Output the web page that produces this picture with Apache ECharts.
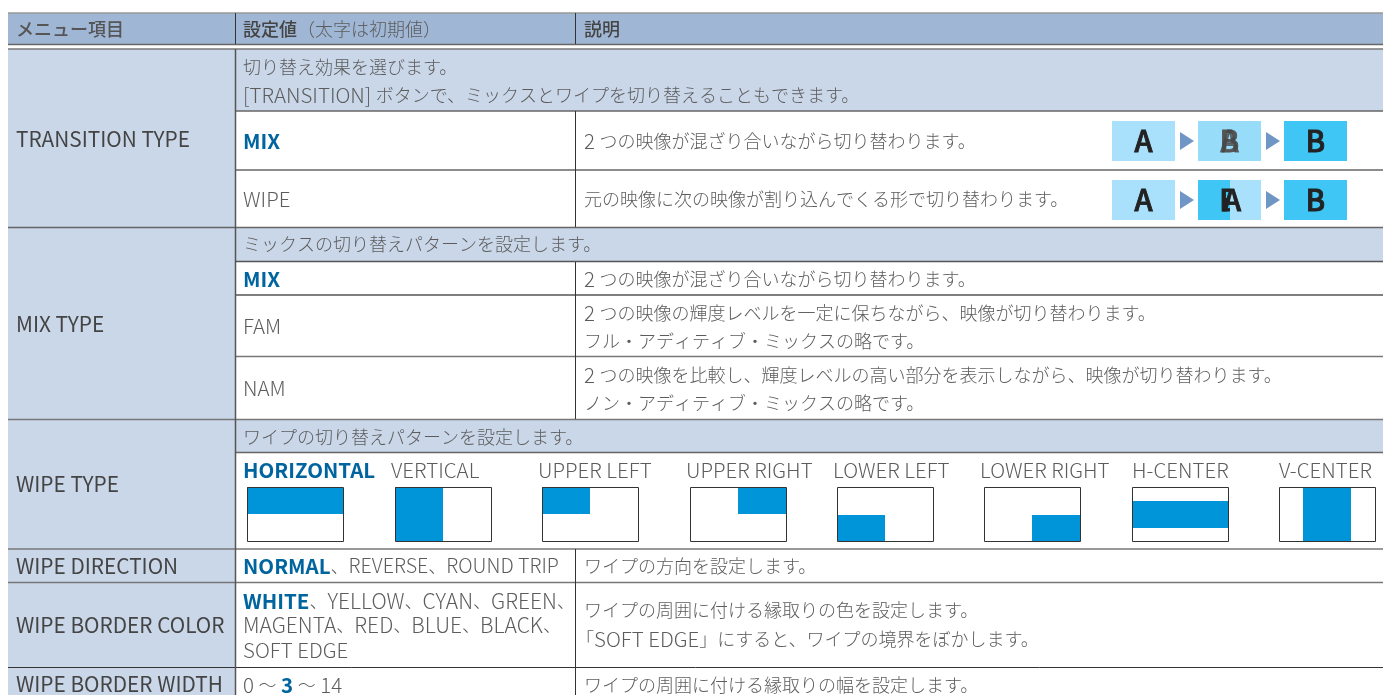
<!DOCTYPE html>
<html style="height: 100%">
<head>
    <meta charset="UTF-8" />
    <title>TRANSITION メニュー</title>
    <script src="https://cdn.jsdelivr.net/npm/echarts@6/dist/echarts.min.js"></script>
</head>
<body style="height: 100%; margin: 0; background: #fff">
    <div id="main" style="width: 1383px; height: 695px"></div>
    <script type="text/javascript">
        // table text
        var headerLabels = ['メニュー項目', '設定値', '（太字は初期値）', '説明'];
        var menuItems = ['TRANSITION TYPE', 'MIX TYPE', 'WIPE TYPE', 'WIPE DIRECTION', 'WIPE BORDER COLOR', 'WIPE BORDER WIDTH'];
        var transitionIntro = ['切り替え効果を選びます。', '[TRANSITION] ボタンで、ミックスとワイプを切り替えることもできます。'];
        var transitionValues = ['MIX', 'WIPE'];
        var transitionNotes = ['2 つの映像が混ざり合いながら切り替わります。', '元の映像に次の映像が割り込んでくる形で切り替わります。'];
        var mixIntro = 'ミックスの切り替えパターンを設定します。';
        var mixValues = ['MIX', 'FAM', 'NAM'];
        var mixNotes = [
            ['2 つの映像が混ざり合いながら切り替わります。'],
            ['2 つの映像の輝度レベルを一定に保ちながら、映像が切り替わります。', 'フル・アディティブ・ミックスの略です。'],
            ['2 つの映像を比較し、輝度レベルの高い部分を表示しながら、映像が切り替わります。', 'ノン・アディティブ・ミックスの略です。']
        ];
        var wipeIntro = 'ワイプの切り替えパターンを設定します。';
        var wipeTypes = ['HORIZONTAL', 'VERTICAL', 'UPPER LEFT', 'UPPER RIGHT', 'LOWER LEFT', 'LOWER RIGHT', 'H-CENTER', 'V-CENTER'];
        var directionNote = 'ワイプの方向を設定します。';
        var directionValues = ['NORMAL', '、REVERSE、ROUND TRIP'];
        var colorValues = ['WHITE', '、YELLOW、CYAN、GREEN、', 'MAGENTA、RED、BLUE、BLACK、', 'SOFT EDGE'];
        var colorNotes = ['ワイプの周囲に付ける縁取りの色を設定します。', '「SOFT EDGE」にすると、ワイプの境界をぼかします。'];
        var widthValues = ['0 ～ ', '3', ' ～ 14'];
        var widthNote = 'ワイプの周囲に付ける縁取りの幅を設定します。';

        // layout
        var LEFT = 8, COL2 = 235, COL3 = 575, RIGHT = 1383;
        var lineColor = '#555', textColor = '#5c5c5c', blue = '#00659f', wipeBlue = '#0095d9';
        var font = '"Noto Sans CJK JP"';
        var els = [];

        function rect(x0, y0, x1, y1, fill, z) {
            els.push({ type: 'rect', silent: true, z: z || 0, shape: { x: x0, y: y0, width: x1 - x0, height: y1 - y0 }, style: { fill: fill } });
        }
        function hline(x0, x1, y, color, w) {
            els.push({ type: 'line', silent: true, shape: { x1: x0, y1: y, x2: x1, y2: y }, style: { stroke: color || lineColor, lineWidth: w || 1 } });
        }
        function vline(x, y0, y1, color, w) {
            els.push({ type: 'line', silent: true, shape: { x1: x, y1: y0, x2: x, y2: y1 }, style: { stroke: color || lineColor, lineWidth: w || 1 } });
        }
        // latin runs are set larger than kana/kanji, like the manual's typeface
        var bodyRich = {
            l: { font: '300 20.5px ' + font, fill: textColor },
            c: { font: '300 18px ' + font, fill: textColor },
            b: { font: '700 20.5px ' + font, fill: blue },
            // the value lists are set a little tighter or looser per row
            d: { font: '300 19.7px ' + font, fill: textColor },
            w: { font: '300 21px ' + font, fill: textColor }
        };
        function mix(str, latin) {
            return str.replace(/[A-Za-z0-9 \-\[\]]+|[^A-Za-z0-9 \-\[\]]+/g, function (run) {
                return (/^[A-Za-z0-9 \-\[\]]/.test(run) ? '{' + (latin || 'l') + '|' : '{c|') + run + '}';
            });
        }
        function raw(str, x, y, opt) {
            opt = opt || {};
            var st = {
                text: str, x: x, y: y, verticalAlign: 'middle', align: opt.align || 'left',
                font: (opt.weight || 300) + ' ' + (opt.size || 18) + 'px ' + font,
                fill: opt.color || textColor
            };
            if (opt.rich) st.rich = opt.rich;
            if (opt.stroke) { st.stroke = opt.color; st.lineWidth = opt.stroke; }
            els.push({ type: 'text', silent: true, z: opt.z || 5, style: st });
        }
        function text(str, x, y, latin) {
            raw(mix(str, latin), x, y, { rich: bodyRich });
        }
        function bold(str, x, y) {
            raw(str, x, y, { weight: 700, size: 20.5, color: blue });
        }

        // backgrounds
        rect(LEFT, 13, RIGHT, 44, '#9fb6d4');
        rect(LEFT, 49, COL2, 695, '#cad7e9');
        rect(COL2, 49, RIGHT, 111, '#cad7e9');
        rect(COL2, 228, RIGHT, 262, '#cad7e9');
        rect(COL2, 420, RIGHT, 453, '#cad7e9');

        // header rules
        hline(LEFT, RIGHT, 13, '#999', 1.5);
        hline(LEFT, RIGHT, 44.5, '#666', 1.5);
        hline(LEFT, RIGHT, 49, '#777', 1.5);
        vline(COL2 + 0.5, 13, 44, '#333');
        vline(COL3 + 0.5, 13, 44, '#333');

        // row rules
        hline(COL2, RIGHT, 111, '#666', 1.5);
        hline(COL2, RIGHT, 170, '#666', 1.5);
        hline(LEFT, RIGHT, 227.5, '#666', 1.5);
        hline(COL2, RIGHT, 261.5, '#555', 1.5);
        hline(COL2, RIGHT, 295, '#555', 1.5);
        hline(COL2, RIGHT, 356.5, '#777', 1.5);
        hline(LEFT, RIGHT, 419.5, '#777', 1.5);
        hline(COL2, RIGHT, 452.5, '#666', 1.5);
        hline(LEFT, RIGHT, 549, '#777', 1.5);
        hline(LEFT, RIGHT, 582.5, '#777', 1.5);
        hline(LEFT, RIGHT, 667.5, '#333', 1);

        // column rules
        vline(COL2 + 0.5, 49, 695, '#555', 1.5);
        vline(COL3 + 0.5, 111, 227, '#333');
        vline(COL3 + 0.5, 262, 419, '#333');
        vline(COL3 + 0.5, 549, 695, '#333');

        // header text
        raw(headerLabels[0], 16, 29, { color: '#555', weight: 500 });
        raw('{h|' + headerLabels[1] + '}{n|' + headerLabels[2] + '}', 243, 29, {
            rich: { h: { font: '500 18px ' + font, fill: '#444' }, n: { font: '300 18px ' + font, fill: textColor } }
        });
        raw(headerLabels[3], 584, 29, { weight: 500, color: '#444' });

        // first column
        var menuY = [139, 324, 484, 566, 625, 684];
        menuItems.forEach(function (m, i) { raw(m, 16, menuY[i], { size: 20.8, weight: 400, color: '#444' }); });

        // TRANSITION TYPE
        text(transitionIntro[0], 243, 67);
        text(transitionIntro[1], 243, 95);
        bold(transitionValues[0], 243, 141);
        text(transitionValues[1], 243, 199);
        text(transitionNotes[0], 584, 141);
        text(transitionNotes[1], 584, 199);

        // MIX TYPE
        text(mixIntro, 243, 244);
        bold(mixValues[0], 243, 279);
        text(mixValues[1], 243, 326);
        text(mixValues[2], 243, 388);
        text(mixNotes[0][0], 584, 279);
        text(mixNotes[1][0], 584, 313);
        text(mixNotes[1][1], 584, 341);
        text(mixNotes[2][0], 584, 375);
        text(mixNotes[2][1], 584, 403);

        // WIPE TYPE
        text(wipeIntro, 243, 437);
        var wipeLabelX = [243, 391, 538, 686, 833, 980, 1132, 1279];
        var wipeBoxX = [247, 395, 542, 690, 837, 984, 1132, 1279];
        var BOX_W = 96, BOX_Y = 487, BOX_H = 54;
        // blue part of each thumbnail, as x0,x1,y0,y1 fractions of the box
        var wipeParts = [[0, 1, 0, .5], [0, .5, 0, 1], [0, .5, 0, .5], [.5, 1, 0, .5], [0, .5, .52, 1], [.5, 1, .52, 1], [0, 1, .26, .76], [.25, .75, 0, 1]];
        wipeTypes.forEach(function (w, i) {
            if (i === 0) bold(w, wipeLabelX[i], 470); else text(w, wipeLabelX[i], 470);
            var bx = wipeBoxX[i], p = wipeParts[i];
            rect(bx, BOX_Y, bx + BOX_W, BOX_Y + BOX_H, '#fff');
            rect(bx + p[0] * BOX_W, BOX_Y + p[2] * BOX_H, bx + p[1] * BOX_W, BOX_Y + p[3] * BOX_H, wipeBlue);
            els.push({ type: 'rect', silent: true, z: 3, shape: { x: bx + .5, y: BOX_Y + .5, width: BOX_W, height: BOX_H }, style: { fill: 'none', stroke: '#333', lineWidth: 1 } });
        });

        // WIPE DIRECTION
        raw('{b|' + directionValues[0] + '}' + mix(directionValues[1], 'd'), 243, 566, { rich: bodyRich });
        text(directionNote, 584, 566);

        // WIPE BORDER COLOR
        raw('{b|' + colorValues[0] + '}' + mix(colorValues[1], 'w'), 243, 601, { rich: bodyRich });
        text(colorValues[2], 243, 625, 'w');
        text(colorValues[3], 243, 650);
        text(colorNotes[0], 584, 610);
        text(colorNotes[1], 576, 639);

        // WIPE BORDER WIDTH
        raw(mix(widthValues[0]) + '{b|' + widthValues[1] + '}' + mix(widthValues[2]), 243, 685, { rich: bodyRich });
        text(widthNote, 584, 685);

        // A > B pictures in the transition rows
        function abBox(x, y, fill) { rect(x, y, x + 63, y + 40, fill); }
        function arrow(x, y) {
            els.push({ type: 'polygon', silent: true, shape: { points: [[x, y - 9], [x + 14, y], [x, y + 9]] }, style: { fill: '#6f96c4' } });
        }
        function glyph(c, x, y, color, z) { raw(c, x, y, { weight: 500, size: 29, align: 'center', color: color || '#222', z: z, stroke: 0.9 }); }

        abBox(1112, 121, '#a9e0fb'); arrow(1180, 141);
        abBox(1198, 121, '#97dcf8'); arrow(1266, 141);
        abBox(1284, 121, '#3fc6f4');
        glyph('A', 1143.5, 141);
        glyph('B', 1229.5, 141, '#555');
        glyph('A', 1229.5, 141, 'rgba(70,70,70,0.75)');
        glyph('B', 1315.5, 141);

        abBox(1112, 180, '#a9e0fb'); arrow(1180, 200);
        abBox(1198, 180, '#a9e0fb'); rect(1198, 180, 1230, 220, '#3fc6f4'); arrow(1266, 200);
        abBox(1284, 180, '#3fc6f4');
        glyph('A', 1143.5, 200);
        // wipe in progress: only the left of the B shows, the A lies over it
        glyph('B', 1229, 200, '#222', 5);
        rect(1230, 180, 1261, 220, '#a9e0fb', 6);
        glyph('A', 1232, 200, '#222', 7);
        glyph('B', 1315.5, 200);

        var myChart = echarts.init(document.getElementById('main'), null, { renderer: 'canvas' });
        myChart.setOption({
            animation: false,
            graphic: { elements: els }
        });
    </script>
</body>
</html>
